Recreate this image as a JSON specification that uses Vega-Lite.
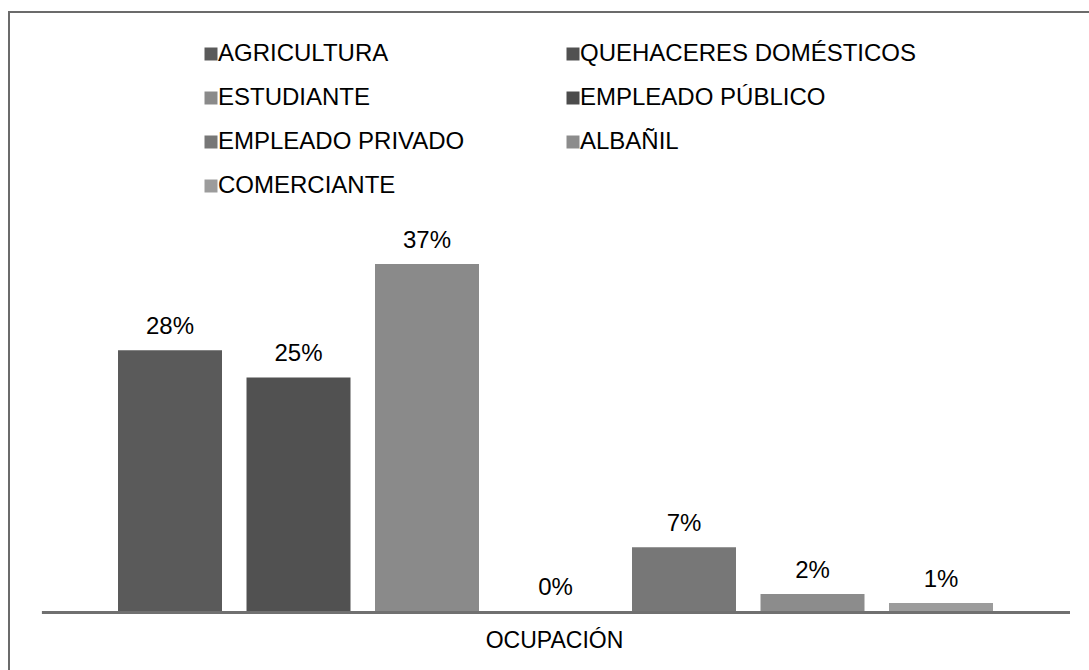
{
  "$schema": "https://vega.github.io/schema/vega-lite/v6.json",
  "width": 1090,
  "height": 668,
  "autosize": {"type": "none"},
  "padding": {"left": 9, "top": 12, "right": 0, "bottom": 0},
  "background": "white",
  "config": {
    "view": {"stroke": "#6b6b6b", "strokeWidth": 2},
    "font": "Liberation Sans"
  },
  "data": {
    "values": [
      {"ocupacion": "AGRICULTURA", "valor": 0.278},
      {"ocupacion": "QUEHACERES DOMÉSTICOS", "valor": 0.249},
      {"ocupacion": "ESTUDIANTE", "valor": 0.37},
      {"ocupacion": "EMPLEADO PÚBLICO", "valor": 0.0},
      {"ocupacion": "EMPLEADO PRIVADO", "valor": 0.068},
      {"ocupacion": "ALBAÑIL", "valor": 0.018},
      {"ocupacion": "COMERCIANTE", "valor": 0.0085}
    ]
  },
  "encoding": {
    "x": {
      "field": "ocupacion",
      "type": "nominal",
      "sort": null,
      "scale": {"paddingInner": 0.1907, "paddingOuter": 0.8366, "align": 0.507},
      "axis": {
        "labels": false,
        "ticks": false,
        "domain": false,
        "grid": false,
        "title": "OCUPACIÓN",
        "titleY": -40,
        "titleBaseline": "middle",
        "titleFontSize": 23,
        "titleFontWeight": "normal",
        "titleColor": "#000000"
      }
    }
  },
  "layer": [
    {
      "mark": {"type": "bar"},
      "encoding": {
        "y": {
          "field": "valor",
          "type": "quantitative",
          "scale": {"domain": [-0.07356, 0.63859], "nice": false, "zero": false},
          "axis": null
        },
        "color": {
          "field": "ocupacion",
          "type": "nominal",
          "sort": null,
          "scale": {
            "domain": ["AGRICULTURA", "QUEHACERES DOMÉSTICOS", "ESTUDIANTE", "EMPLEADO PÚBLICO", "EMPLEADO PRIVADO", "ALBAÑIL", "COMERCIANTE"],
            "range": ["#5a5a5a", "#515151", "#8a8a8a", "#4c4c4c", "#777777", "#8c8c8c", "#9c9c9c"]
          },
          "legend": {
            "title": null,
            "orient": "none",
            "direction": "horizontal",
            "legendX": 190,
            "legendY": 30,
            "columns": 2,
            "symbolType": "square",
            "symbolSize": 169,
            "symbolStrokeWidth": 0,
            "labelFontSize": 24,
            "labelColor": "#000000",
            "labelOffset": -5,
            "labelLimit": 500,
            "columnPadding": 96,
            "rowPadding": 20,
            "padding": 0
          }
        }
      }
    },
    {
      "mark": {"type": "rule", "color": "#707070", "strokeWidth": 3, "yOffset": 1.5},
      "encoding": {
        "x": {"datum": "AGRICULTURA", "bandPosition": -0.731},
        "x2": {"datum": "COMERCIANTE", "bandPosition": 1.74},
        "y": {"datum": 0, "scale": {"domain": [-0.07356, 0.63859], "nice": false, "zero": false}}
      }
    },
    {
      "mark": {"type": "text", "fontSize": 24, "color": "#000000", "baseline": "alphabetic", "dy": -16},
      "encoding": {
        "y": {"field": "valor", "type": "quantitative"},
        "text": {"field": "valor", "type": "quantitative", "format": ".0%"}
      }
    }
  ]
}
